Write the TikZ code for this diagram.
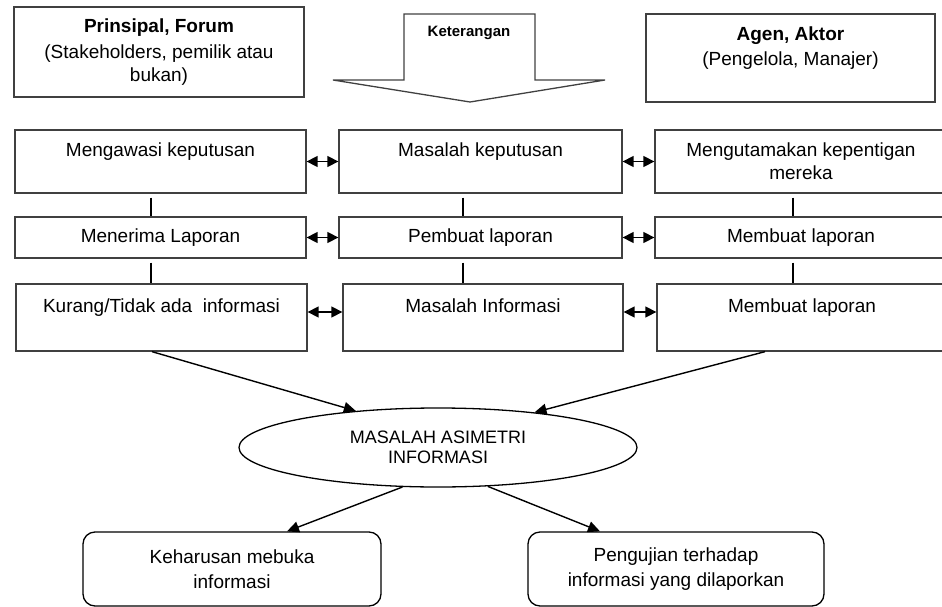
\documentclass[tikz,border=0pt]{standalone}
\usepackage{fontspec}
\setmainfont{Liberation Sans}
\usetikzlibrary{shapes.geometric,arrows.meta}

\begin{document}
\begin{tikzpicture}[x=1pt,y=-1pt]
		\tikzstyle{every node}+=[inner sep=0pt, align=center, font=\fontsize{19}{23}\selectfont]
		\tikzstyle{kotak}=[rectangle, draw=black!75, line width=1.3pt]
		\tikzstyle{panah}=[-{Triangle[length=12pt,width=11pt]}, line width=1.4pt]
		\tikzstyle{duapanah}=[{Triangle[length=11pt,width=11pt]}-{Triangle[length=11pt,width=11pt]}, line width=1.4pt]
		\useasboundingbox (0,0) rectangle (942,607);
		\clip (0,0) rectangle (942,607);
		% atas
		\node [kotak, minimum width=290, minimum height=90] (prinsipal) at (159,52) {\textbf{Prinsipal, Forum}\\[3pt](Stakeholders, pemilik atau\\bukan)};
		\node [kotak, minimum width=289, minimum height=88] (agen) at (790.5,58) {\textbf{Agen, Aktor}\\[2pt](Pengelola, Manajer)\\\mbox{}};
		\draw [draw=black!75, line width=1.3pt] (404,14) -- (535,14) -- (535,80) -- (605,80) -- (470,102) -- (333,80) -- (404,80) -- cycle;
		\node [font=\bfseries\fontsize{15}{18}\selectfont] (ket) at (469,33) {Keterangan};
		% baris 1
		\node [kotak, minimum width=291, minimum height=63] (l1) at (160.5,161.5) {Mengawasi keputusan\\\mbox{}};
		\node [kotak, minimum width=283, minimum height=63] (m1) at (480.5,161.5) {Masalah keputusan\\\mbox{}};
		\node [kotak, minimum width=292, minimum height=63] (r1) at (801,161.5) {Mengutamakan kepentigan\\mereka};
		% baris 2
		\node [kotak, minimum width=291, minimum height=41] (l2) at (160.5,237.5) {Menerima Laporan};
		\node [kotak, minimum width=283, minimum height=41] (m2) at (480.5,237.5) {Pembuat laporan};
		\node [kotak, minimum width=292, minimum height=41] (r2) at (801,237.5) {Membuat laporan};
		% baris 3
		\node [kotak, minimum width=291, minimum height=67] (l3) at (161.5,317.5) {Kurang/Tidak ada\ \ informasi\\\mbox{}};
		\node [kotak, minimum width=280, minimum height=67] (m3) at (483,317.5) {Masalah Informasi\\\mbox{}};
		\node [kotak, minimum width=290, minimum height=67] (r3) at (802,317.5) {Membuat laporan\\\mbox{}};
		% tengah dan bawah
		\node [ellipse, draw, line width=1.3pt, minimum width=398, minimum height=79, font=\fontsize{18}{20}\selectfont] (asimetri) at (438,447.5) {MASALAH ASIMETRI\\INFORMASI};
		\node [kotak, draw=black, rounded corners=12pt, minimum width=298, minimum height=74, font=\fontsize{19}{25}\selectfont] (keharusan) at (232,569) {Keharusan mebuka\\informasi};
		\node [kotak, draw=black, rounded corners=12pt, minimum width=296, minimum height=74, font=\fontsize{19}{25}\selectfont] (pengujian) at (676,569) {Pengujian terhadap\\informasi yang dilaporkan};
		% garis
		\draw [line width=1.3pt, shorten <=4pt] ([xshift=-9.5pt]l1.south) -- ([xshift=-9.5pt]l2.north);
		\draw [line width=1.3pt, shorten <=4pt] ([xshift=-9.5pt]l2.south) -- ([xshift=-10.5pt]l3.north);
		\draw [line width=1.3pt, shorten <=4pt] ([xshift=-17.5pt]m1.south) -- ([xshift=-17.5pt]m2.north);
		\draw [line width=1.3pt, shorten <=4pt] ([xshift=-17.5pt]m2.south) -- ([xshift=-20pt]m3.north);
		\draw [line width=1.3pt, shorten <=4pt] ([xshift=-8pt]r1.south) -- ([xshift=-8pt]r2.north);
		\draw [line width=1.3pt, shorten <=4pt] ([xshift=-8pt]r2.south) -- ([xshift=-9pt]r3.north);
		\draw [duapanah] (l1) -- (m1);
		\draw [duapanah] (m1) -- (r1);
		\draw [duapanah] (l2) -- (m2);
		\draw [duapanah] (m2) -- (r2);
		\draw [duapanah] ([yshift=5.5pt]l3.east) -- ([yshift=5.5pt]m3.west);
		\draw [duapanah] ([yshift=5.5pt]m3.east) -- ([yshift=5.5pt]r3.west);
		\draw [panah] ([xshift=-9.5pt]l3.south) -- (asimetri.156);
		\draw [panah] ([xshift=-37pt]r3.south) -- (asimetri.20);
		\draw [panah] (asimetri.228) -- ([xshift=55pt]keharusan.north);
		\draw [panah] (asimetri.322) -- ([xshift=-76pt]pengujian.north);
	\end{tikzpicture}
\end{document}
